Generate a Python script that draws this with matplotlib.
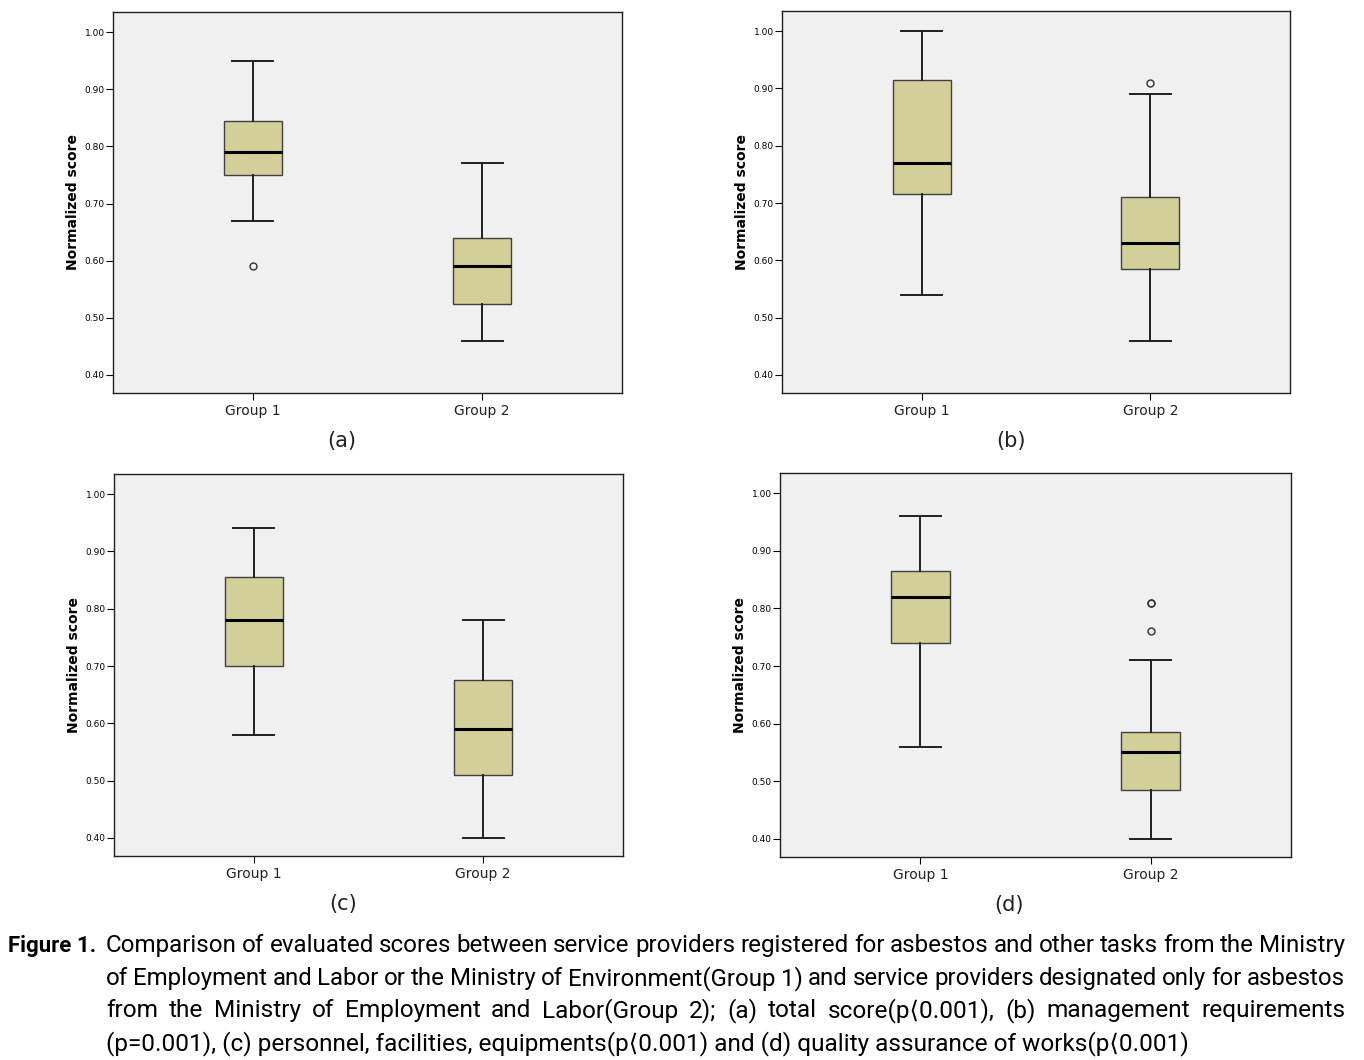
import matplotlib.pyplot as plt
from matplotlib import font_manager

# box statistics: (whislo, q1, med, q3, whishi, fliers)
groups = ['Group 1', 'Group 2']
panel_a = [(0.67, 0.75, 0.79, 0.845, 0.95, [0.59]),
           (0.46, 0.525, 0.59, 0.64, 0.77, [])]
panel_b = [(0.54, 0.715, 0.77, 0.915, 1.00, []),
           (0.46, 0.585, 0.63, 0.71, 0.89, [0.91])]
panel_c = [(0.58, 0.70, 0.78, 0.855, 0.94, []),
           (0.40, 0.51, 0.59, 0.675, 0.78, [])]
panel_d = [(0.56, 0.74, 0.82, 0.865, 0.96, []),
           (0.40, 0.485, 0.55, 0.585, 0.71, [0.81, 0.81, 0.76])]
panel_names = ['(a)', '(b)', '(c)', '(d)']
yticks = [0.40, 0.50, 0.60, 0.70, 0.80, 0.90, 1.00]

caption_lines = [
    "Comparison of evaluated scores between service providers registered for asbestos and other tasks from the Ministry",
    "of Employment and Labor or the Ministry of Environment(Group 1) and service providers designated only for asbestos",
    "from the Ministry of Employment and Labor(Group 2); (a) total score(p\u27e80.001), (b) management requirements",
    "(p=0.001), (c) personnel, facilities, equipments(p\u27e80.001) and (d) quality assurance of works(p\u27e80.001)",
]

W, H = 1364, 1060
fig = plt.figure(figsize=(W / 100, H / 100), dpi=100)

# axes rectangles in pixels (left, top, right, bottom)
rects = [(113, 12, 622, 393), (782, 11, 1290, 393),
         (114, 474, 623, 856), (780, 473, 1291, 857)]
panels = [panel_a, panel_b, panel_c, panel_d]

for rect, data, name in zip(rects, panels, panel_names):
    l, t, r, b = rect
    ax = fig.add_axes([l / W, 1 - b / H, (r - l) / W, (b - t) / H])
    ax.set_facecolor('#f0f0f0')
    stats = []
    for g, (lo, q1, med, q3, hi, fl) in zip(groups, data):
        stats.append(dict(label=g, whislo=lo, q1=q1, med=med, q3=q3,
                          whishi=hi, fliers=fl))
    ax.bxp(stats, positions=[1, 2], widths=0.253, patch_artist=True,
           boxprops=dict(facecolor='#d3cf98', edgecolor='#404040', linewidth=1),
           medianprops=dict(color='black', linewidth=2.2),
           whiskerprops=dict(color='#202020', linewidth=1.4),
           capprops=dict(color='#202020', linewidth=1.4),
           capwidths=0.18,
           flierprops=dict(marker='o', markersize=5, markerfacecolor='none',
                           markeredgecolor='#303030', markeredgewidth=1))
    ax.set_xlim(0.39, 2.61)
    ax.set_ylim(0.3685, 1.035)
    ax.set_yticks(yticks)
    ax.set_yticklabels(['%.2f' % v for v in yticks], fontsize=6.5)
    ax.set_xticks([1, 2])
    ax.set_xticklabels(groups, fontsize=10, color='#222222')
    ax.tick_params(axis='y', length=5, width=0.8, pad=1)
    ax.tick_params(axis='x', length=5, width=0.8, pad=3)
    ax.set_ylabel('Normalized score', fontsize=10, fontweight='bold', labelpad=3)
    for s in ax.spines.values():
        s.set_linewidth(1)
        s.set_color('#202020')
    fig.text((l + 229) / W, 1 - (b + 48) / H, name, fontsize=15,
             ha='center', va='center', color='#222222')

# caption, justified like the journal layout
fams = ['Roboto', 'DejaVu Sans']
base_size = 17.6
bold_font = font_manager.FontProperties(family=fams, size=16, weight='bold')
fig.text(8 / W, 1 - 952 / H, 'Figure 1.', fontproperties=bold_font,
         ha='left', va='baseline', color='black')
renderer = fig.canvas.get_renderer()
x0, x1 = 106, 1345
line_y = [952, 985, 1017, 1050]   # baselines
for i, (line, yy) in enumerate(zip(caption_lines, line_y)):
    words = line.split(' ')
    size = base_size
    font = font_manager.FontProperties(family=fams, size=size)
    if i == len(caption_lines) - 1:
        fig.text(x0 / W, 1 - yy / H, line, fontproperties=font,
                 ha='left', va='baseline', color='black')
        continue
    arts = [fig.text(0, 1 - yy / H, w_, fontproperties=font, ha='left',
                     va='baseline', color='black') for w_ in words]
    widths = [a.get_window_extent(renderer).width for a in arts]
    min_gap = 0.22 * size * 100 / 72
    need = sum(widths) + min_gap * (len(words) - 1)
    if need > x1 - x0:
        # tighten the line by shrinking its type a little
        size = size * (x1 - x0) / need
        for a in arts:
            a.set_fontsize(size)
        widths = [a.get_window_extent(renderer).width for a in arts]
    gap = (x1 - x0 - sum(widths)) / (len(words) - 1)
    x = x0
    for a, wd in zip(arts, widths):
        a.set_x(x / W)
        x += wd + gap

fig.savefig('out.png', dpi=100)
